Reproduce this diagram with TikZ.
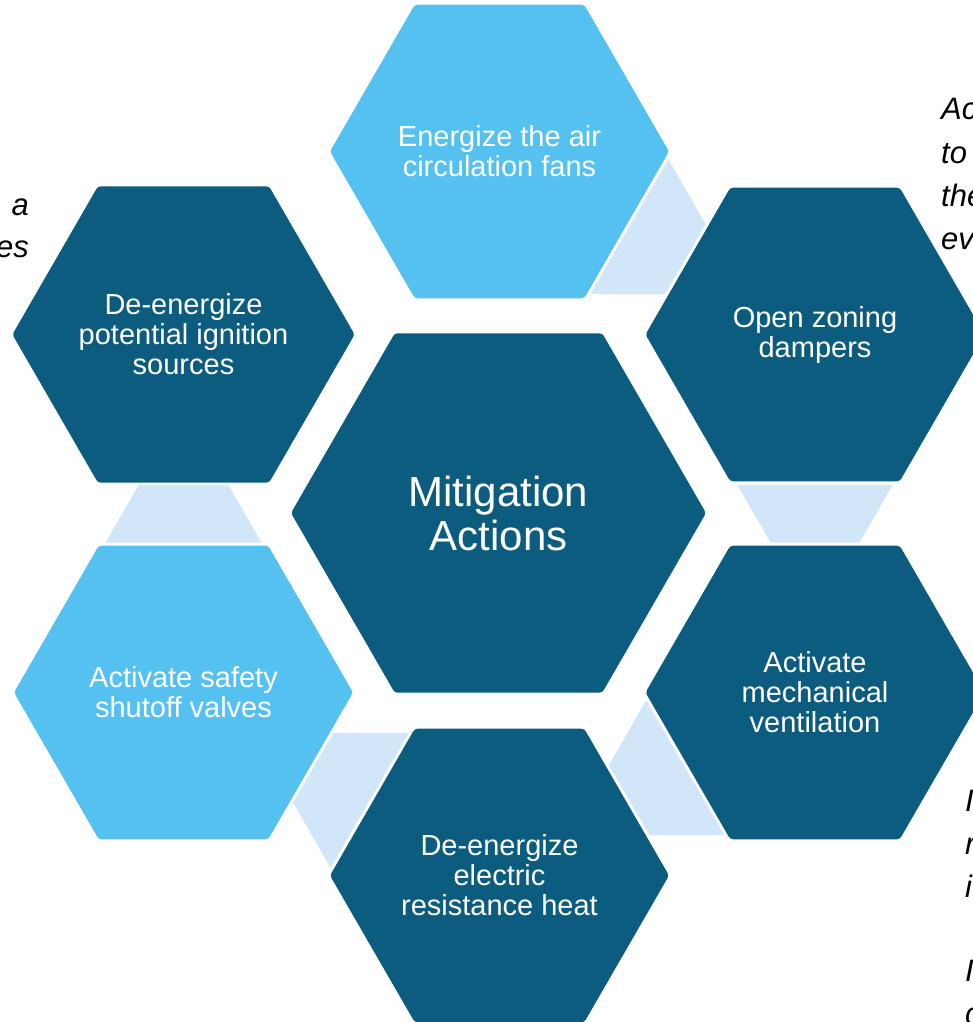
\documentclass[tikz,border=0pt]{standalone}
\usepackage{fontspec}
\setmainfont{Liberation Sans}
\usetikzlibrary{shapes.geometric,calc}
\definecolor{hexdark}{RGB}{12,92,128}
\definecolor{hexlight}{RGB}{85,193,240}
\definecolor{connfill}{RGB}{209,231,249}
\newcommand\hexlink[2]{%
  \coordinate (#1#2a) at ($(#1.center)!150pt!(#2.center)$);
  \coordinate (#1#2b) at ($(#2.center)!150pt!(#1.center)$);
  \fill[conn] let \p1=($(#2.center)-(#1.center)$),
    \n1={78pt-0.57735*(veclen(\x1,\y1)-300pt)} in
    ($(#1#2a)!78pt!90:(#2.center)$) -- ($(#1#2a)!78pt!-90:(#2.center)$) --
    ($(#1#2b)!\n1!90:(#1.center)$) -- ($(#1#2b)!\n1!-90:(#1.center)$) -- cycle;}
\begin{document}
\begin{tikzpicture}[x=1pt,y=-1pt,
  hex/.style={regular polygon, regular polygon sides=6, inner sep=0pt, outer sep=0pt,
    minimum size=339pt, rounded corners=3pt, text=white, align=center,
    font=\fontsize{29}{30}\selectfont},
  dark/.style={hex, fill=hexdark},
  light/.style={hex, fill=hexlight},
  conn/.style={fill=connfill},
  side/.style={font=\fontsize{31}{43}\selectfont\itshape, inner sep=0pt, text=black}]
\useasboundingbox (0,0) rectangle (973,1022);
\clip (0,0) rectangle (973,1022);
\node[dark, minimum size=415pt, font=\fontsize{42}{44}\selectfont] (center) at (498.5,513) {Mitigation\\Actions};
\node[light] (top) at (499.5,151.5) {Energize the air\\circulation fans};
\node[dark] (tr) at (815,334.5) {Open zoning\\dampers};
\node[dark] (br) at (815,692.5) {Activate\\mechanical\\ventilation};
\node[dark] (bot) at (499.5,875.5) {De-energize\\electric\\resistance heat};
\node[light] (bl) at (183.5,692.5) {Activate safety\\shutoff valves};
\node[dark] (tl) at (183.5,334.5) {De-energize\\potential ignition\\sources};
\hexlink{top}{tr}
\hexlink{tr}{br}
\hexlink{br}{bot}
\hexlink{bot}{bl}
\hexlink{bl}{tl}
\node[side, anchor=base east] (l1) at (29,215) {a};
\node[side, anchor=base east] (l2) at (29,257) {es};
\node[side, anchor=base west] (r1) at (941,120) {Ac};
\node[side, anchor=base west] (r2) at (941,163) {to};
\node[side, anchor=base west] (r3) at (941,206) {the};
\node[side, anchor=base west] (r4) at (941,249) {ev};
\node[side, anchor=base west] (b1) at (965,811) {I};
\node[side, anchor=base west] (b2) at (965,854) {r};
\node[side, anchor=base west] (b3) at (965,897) {i};
\node[side, anchor=base west] (b4) at (965,981) {I};
\node[side, anchor=base west] (b5) at (965,1024) {c};
\end{tikzpicture}
\end{document}
